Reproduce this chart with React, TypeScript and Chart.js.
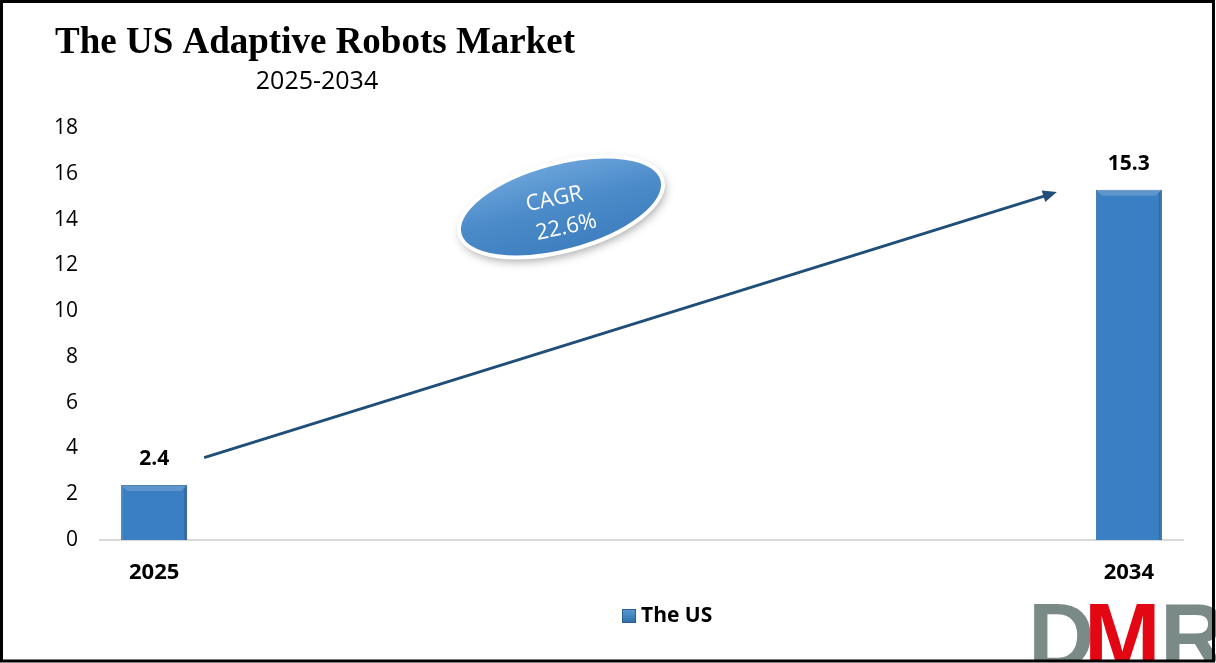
import React, { useEffect, useRef } from "react";
import { Chart, registerables } from "chart.js";

Chart.register(...registerables);

const TITLE = "The US Adaptive Robots Market";
const SUBTITLE = "2025-2034";
const CATEGORIES = ["2025", "", "", "", "", "", "", "", "", "2034"];
const SERIES_LABEL = "The US";
const SERIES_VALUES: (number | null)[] = [2.4, null, null, null, null, null, null, null, null, 15.3];
const CAGR_LINES = ["CAGR", "22.6%"];
const Y_MIN = 0;
const Y_MAX = 18;
const Y_STEP = 2;

const SANS = "'Open Sans', 'Noto Sans', 'Liberation Sans', sans-serif";

const decorPlugin = {
  id: "decor",
  beforeDraw(chart: any) {
    const ctx = chart.ctx;
    ctx.save();
    ctx.fillStyle = "#ffffff";
    ctx.fillRect(0, 0, chart.width, chart.height);
    ctx.restore();
  },
  afterDatasetsDraw(chart: any) {
    const ctx = chart.ctx;
    const xs = chart.scales.x;
    const ys = chart.scales.y;
    const meta = chart.getDatasetMeta(0);
    const ds = chart.data.datasets[0];

    // bevel highlight on bars
    meta.data.forEach((bar: any, i: number) => {
      const v = ds.data[i];
      if (v == null) return;
      const { x, y, base, width } = bar;
      const l = x - width / 2, r = x + width / 2;
      const b = 6;
      ctx.save();
      ctx.fillStyle = "rgba(255,255,255,0.18)";
      ctx.beginPath();
      ctx.moveTo(l, y); ctx.lineTo(r, y); ctx.lineTo(r - b, y + b); ctx.lineTo(l + b, y + b); ctx.closePath();
      ctx.fill();
      ctx.fillStyle = "rgba(0,0,0,0.15)";
      ctx.beginPath();
      ctx.moveTo(r, y); ctx.lineTo(r, base); ctx.lineTo(r - 3, base); ctx.lineTo(r - 3, y + 3); ctx.closePath();
      ctx.fill();
      ctx.restore();
    });

    // value labels
    ctx.save();
    ctx.fillStyle = "#000";
    ctx.font = `bold 21px ${SANS}`;
    ctx.textAlign = "center";
    ctx.textBaseline = "middle";
    meta.data.forEach((bar: any, i: number) => {
      const v = ds.data[i];
      if (v == null) return;
      ctx.fillText(String(v), bar.x, bar.y - 26);
    });
    ctx.restore();

    // arrow
    const x0 = xs.getPixelForValue(0) + 50;
    const y0 = ys.getPixelForValue(3.6);
    const x1 = xs.getPixelForValue(9) - 72;
    const y1 = ys.getPixelForValue(15.2);
    const ang = Math.atan2(y1 - y0, x1 - x0);
    ctx.save();
    ctx.strokeStyle = "#1f4e79";
    ctx.fillStyle = "#1f4e79";
    ctx.lineWidth = 3;
    ctx.beginPath();
    ctx.moveTo(x0, y0);
    ctx.lineTo(x1 - 10 * Math.cos(ang), y1 - 10 * Math.sin(ang));
    ctx.stroke();
    ctx.beginPath();
    ctx.moveTo(x1, y1);
    ctx.lineTo(x1 - 14 * Math.cos(ang) + 6 * Math.sin(ang), y1 - 14 * Math.sin(ang) - 6 * Math.cos(ang));
    ctx.lineTo(x1 - 14 * Math.cos(ang) - 6 * Math.sin(ang), y1 - 14 * Math.sin(ang) + 6 * Math.cos(ang));
    ctx.closePath();
    ctx.fill();
    ctx.restore();

    // CAGR ellipse
    const cx = 561, cy = 207;
    ctx.save();
    ctx.translate(cx, cy);
    ctx.rotate(-15 * Math.PI / 180);
    ctx.shadowColor = "rgba(0,0,0,0.35)";
    ctx.shadowBlur = 10;
    ctx.shadowOffsetX = 2;
    ctx.shadowOffsetY = 4;
    ctx.beginPath();
    ctx.ellipse(0, 0, 105, 44, 0, 0, Math.PI * 2);
    const g = ctx.createLinearGradient(0, -44, 0, 44);
    g.addColorStop(0, "#6aa3da");
    g.addColorStop(0.45, "#4d8cca");
    g.addColorStop(1, "#3f7ebf");
    ctx.fillStyle = g;
    ctx.fill();
    ctx.shadowColor = "transparent";
    ctx.lineWidth = 4;
    ctx.strokeStyle = "#ffffff";
    ctx.stroke();
    ctx.restore();

    ctx.save();
    ctx.translate(cx, cy);
    ctx.rotate(-12 * Math.PI / 180);
    ctx.fillStyle = "#ffffff";
    ctx.font = `22px ${SANS}`;
    ctx.textAlign = "center";
    ctx.textBaseline = "middle";
    ctx.fillText(CAGR_LINES[0], -5, -9);
    ctx.fillText(CAGR_LINES[1], 1, 21);
    ctx.restore();
  },
  afterDraw(chart: any) {
    const ctx = chart.ctx;
    const ds = chart.data.datasets[0];
    // title
    ctx.save();
    ctx.fillStyle = "#000";
    ctx.textBaseline = "alphabetic";
    ctx.textAlign = "left";
    ctx.font = "bold 37px 'Liberation Serif', 'Times New Roman', serif";
    ctx.fillText(TITLE, 55, 53);
    ctx.font = `25px ${SANS}`;
    ctx.textAlign = "center";
    ctx.fillText(SUBTITLE, 317, 89);
    ctx.restore();

    // legend
    ctx.save();
    const lx = 622, ly = 609;
    const lg = ctx.createLinearGradient(lx, ly, lx, ly + 14);
    lg.addColorStop(0, "#5b9bd5");
    lg.addColorStop(1, "#2e6ca8");
    ctx.fillStyle = lg;
    ctx.fillRect(lx, ly, 14, 14);
    ctx.strokeStyle = "#2b5f94";
    ctx.lineWidth = 1;
    ctx.strokeRect(lx + 0.5, ly + 0.5, 13, 13);
    ctx.fillStyle = "#000";
    ctx.font = `bold 21px ${SANS}`;
    ctx.textAlign = "left";
    ctx.textBaseline = "middle";
    ctx.fillText(ds.label, 641, 616);
    ctx.restore();

    // logo
    ctx.save();
    ctx.beginPath();
    ctx.rect(0, 0, chart.width, 661);
    ctx.clip();
    ctx.font = "bold 92px 'Liberation Sans', sans-serif";
    ctx.textBaseline = "alphabetic";
    ctx.textAlign = "left";
    ctx.fillStyle = "#7a8a87";
    ctx.fillText("D", 1028, 668);
    ctx.fillStyle = "#e30613";
    ctx.fillText("M", 1084, 668);
    ctx.fillStyle = "#7a8a87";
    ctx.fillText("R", 1160, 668);
    ctx.restore();

    // border
    ctx.save();
    ctx.strokeStyle = "#000";
    ctx.lineWidth = 3;
    ctx.strokeRect(1.5, 1.5, chart.width - 4, chart.height - 3.5);
    ctx.restore();
  },
};

export default function App() {
  const ref = useRef<HTMLCanvasElement | null>(null);
  useEffect(() => {
    document.body.style.margin = "0";
    const canvas = ref.current!;
    const chart = new Chart(canvas, {
      type: "bar",
      data: {
        labels: CATEGORIES,
        datasets: [
          {
            label: SERIES_LABEL,
            data: SERIES_VALUES,
            backgroundColor: "#3a7ec3",
            borderColor: "#2d659f",
            borderWidth: 1,
            categoryPercentage: 1,
            barPercentage: 0.61,
          },
        ],
      },
      options: {
        responsive: false,
        animation: false,
        events: [],
        layout: { padding: { top: 128, left: 0, right: 33, bottom: 0 } },
        plugins: {
          legend: { display: false },
          title: { display: false },
          tooltip: { enabled: false },
        },
        scales: {
          x: {
            grid: { display: false, drawTicks: false },
            border: { display: true, color: "#d9d9d9", width: 2 },
            ticks: {
              autoSkip: false,
              maxRotation: 0,
              padding: 20,
              color: "#000",
              font: { family: SANS, size: 22, weight: "bold" },
            },
            afterFit: (s: any) => {
              s.height = 123;
            },
          },
          y: {
            min: Y_MIN,
            max: Y_MAX,
            ticks: {
              stepSize: Y_STEP,
              padding: 22,
              color: "#000",
              font: { family: SANS, size: 21 },
            },
            grid: { display: false, drawTicks: false },
            border: { display: false },
            afterFit: (s: any) => {
              s.width = 100;
            },
          },
        },
      },
      plugins: [decorPlugin],
    });
    return () => chart.destroy();
  }, []);
  return (
    <div style={{ position: "absolute", left: 0, top: 0, width: 1216, height: 663 }}>
      <canvas ref={ref} width={1216} height={663} style={{ display: "block" }} />
    </div>
  );
}
